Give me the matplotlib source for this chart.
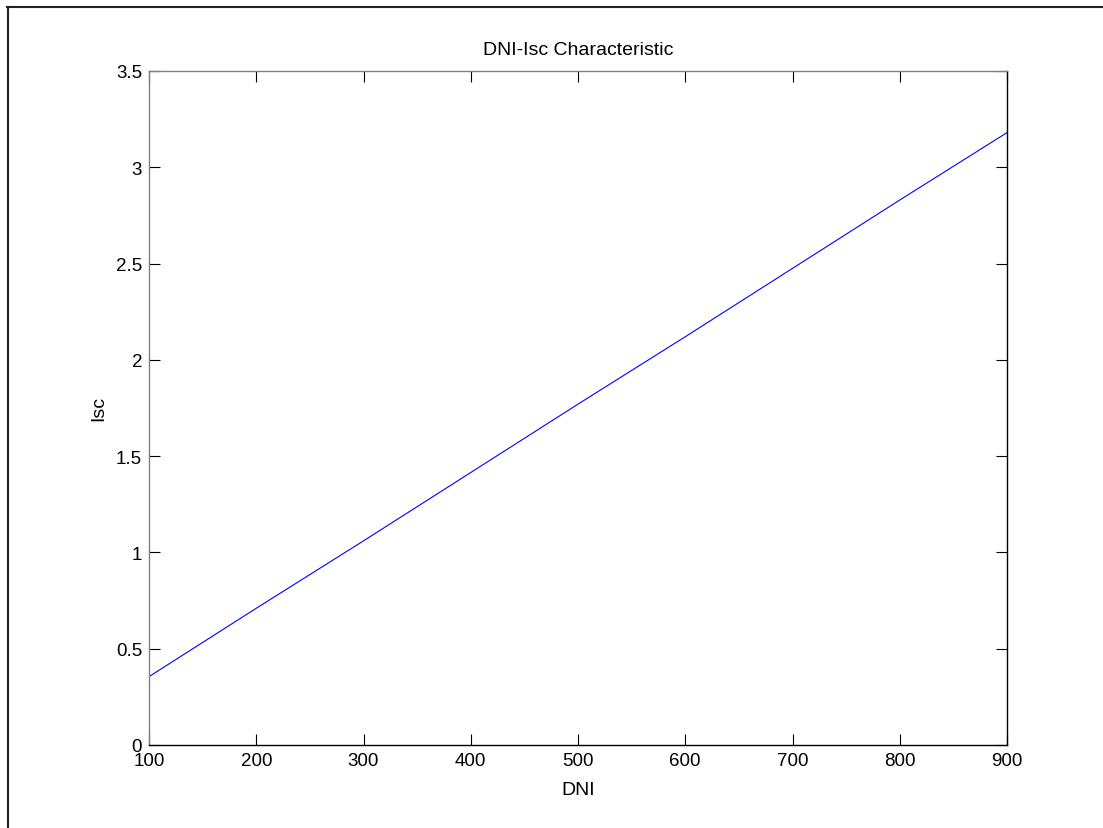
import numpy as np
import matplotlib.pyplot as plt
from matplotlib.lines import Line2D

plt.rcParams['font.family'] = ['Liberation Sans', 'DejaVu Sans']

# values
dni = [100, 200, 300, 400, 500, 600, 700, 800, 900]
isc = [0.355, 0.71, 1.06, 1.415, 1.77, 2.12, 2.475, 2.83, 3.18]
xticks = [100, 200, 300, 400, 500, 600, 700, 800, 900]
yticks = [0, 0.5, 1, 1.5, 2, 2.5, 3, 3.5]
yticklabels = ['0', '0.5', '1', '1.5', '2', '2.5', '3', '3.5']

fig = plt.figure(figsize=(11.03, 8.29), dpi=100)
ax = fig.add_axes([149/1103, 83/829, 858/1103, 674/829])

ax.plot(dni, isc, color='blue', lw=0.8)
ax.set_xlim(100, 900)
ax.set_ylim(0, 3.5)
ax.set_xticks(xticks)
ax.set_yticks(yticks)
ax.set_yticklabels(yticklabels)
ax.tick_params(direction='in', length=8, width=0.8, top=True, right=True,
               labelsize=13.5, pad=5)
for s in ['top', 'left']:
    ax.spines[s].set_color('#808080')
for s in ax.spines.values():
    s.set_linewidth(1)

ax.set_title('DNI-Isc Characteristic', fontsize=14, pad=12)
ax.set_xlabel('DNI', fontsize=14, labelpad=9)
ax.set_ylabel('Isc', fontsize=14, labelpad=6)

# window frame on left and top
fig.add_artist(Line2D([7.5/1103, 7.5/1103], [0, 1 - 8/829], color='#222222', lw=1.5))
fig.add_artist(Line2D([7/1103, 1], [1 - 8/829, 1 - 8/829], color='#222222', lw=1.5))

fig.savefig('out.png', dpi=100)
